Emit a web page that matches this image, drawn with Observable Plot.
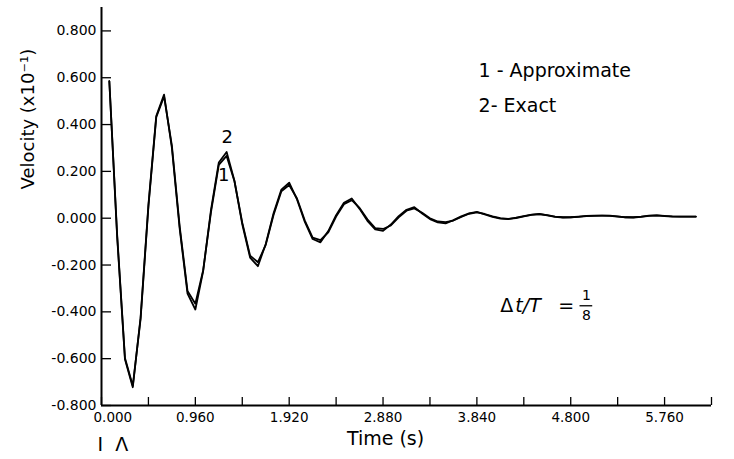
<!DOCTYPE html>
<html>
<head>
<meta charset="utf-8">
<script src="https://cdn.jsdelivr.net/npm/d3@7"></script>
<script src="https://cdn.jsdelivr.net/npm/@observablehq/plot@0.6"></script>
<style>
  html, body { margin: 0; padding: 0; background: #fff; }
  #chart svg { display: block; }
</style>
</head>
<body>
<div id="chart"></div>
<script>
// ---- data ----
const time = [0.08,0.16,0.24,0.32,0.40,0.48,0.56,0.64,0.72,0.80,0.88,0.96,1.04,1.12,1.20,1.28,1.36,1.44,1.52,1.60,
  1.68,1.76,1.84,1.92,2.00,2.08,2.16,2.24,2.32,2.40,2.48,2.56,2.64,2.72,2.80,2.88,2.96,3.04,3.12,3.20,
  3.28,3.36,3.44,3.52,3.60,3.68,3.76,3.84,3.92,4.00,4.08,4.16,4.24,4.32,4.40,4.48,4.56,4.64,4.72,4.80,
  4.88,4.96,5.04,5.12,5.20,5.28,5.36,5.44,5.52,5.60,5.68,5.76,5.84,5.92,6.00,6.08];

const approximate = [0.585,-0.070,-0.597,-0.716,-0.430,0.050,0.431,0.520,0.310,-0.036,-0.311,-0.365,-0.222,0.026,0.228,0.266,0.158,-0.019,-0.160,-0.188,
  -0.114,0.014,0.115,0.142,0.084,-0.010,-0.083,-0.094,-0.060,0.007,0.060,0.077,0.044,-0.005,-0.042,-0.046,-0.031,0.004,0.032,0.042,
  0.023,0.000,-0.014,-0.017,-0.010,0.005,0.019,0.025,0.018,0.008,0.000,-0.003,0.000,0.008,0.014,0.017,0.013,0.007,0.004,0.004,
  0.006,0.009,0.010,0.011,0.011,0.008,0.004,0.003,0.006,0.010,0.012,0.010,0.008,0.007,0.007,0.007];

const exact = [0.585,-0.078,-0.603,-0.722,-0.423,0.057,0.436,0.528,0.300,-0.046,-0.322,-0.390,-0.226,0.036,0.238,0.283,0.160,-0.026,-0.168,-0.205,
  -0.110,0.021,0.122,0.152,0.080,-0.016,-0.089,-0.103,-0.055,0.013,0.066,0.084,0.040,-0.011,-0.048,-0.054,-0.027,0.009,0.036,0.047,
  0.020,-0.004,-0.018,-0.022,-0.008,0.008,0.021,0.027,0.016,0.006,-0.002,-0.004,0.002,0.009,0.015,0.018,0.012,0.006,0.003,0.004,
  0.007,0.010,0.011,0.011,0.010,0.007,0.004,0.004,0.007,0.011,0.012,0.009,0.007,0.007,0.007,0.007];

const xTicks = [0,0.48,0.96,1.44,1.92,2.40,2.88,3.36,3.84,4.32,4.80,5.28,5.76,6.24];
const xTickLabels = [0,0.96,1.92,2.88,3.84,4.80,5.76];
const yTicks = [-0.8,-0.6,-0.4,-0.2,0,0.2,0.4,0.6,0.8];

const seriesNotes = [
  {text: "1 - Approximate", t: 3.857, v: 0.631},
  {text: "2- Exact", t: 3.857, v: 0.481}
];
const curveTags = [
  {text: "2", t: 1.286, v: 0.346},
  {text: "1", t: 1.251, v: 0.182}
];
const ratioNote = [{t: 4.08, v: -0.374}];

const xDomain = [0, 6.24];
const yDomain = [-0.8, 0.9];

// ---- table ----
const rows = time.flatMap((t, i) => [
  {t, v: approximate[i], series: "Approximate"},
  {t, v: exact[i], series: "Exact"}
]);

const font = "DejaVu Sans, sans-serif";
const fmt = d => d.toFixed(3);

const chart = Plot.plot({
  width: 734,
  height: 459,
  marginLeft: 101,
  marginRight: 23,
  marginTop: 7,
  marginBottom: 54,
  style: {fontFamily: font, background: "#fff", color: "#000"},
  x: {domain: xDomain, axis: null},
  y: {domain: yDomain, axis: null},
  marks: [
    // inward ticks
    Plot.axisY({ticks: yTicks, anchor: "left", tickSize: -10, tickFormat: () => "", label: null, strokeWidth: 1.3}),
    Plot.axisX({ticks: xTicks, anchor: "bottom", tickSize: -8, tickFormat: () => "", label: null, strokeWidth: 1.3}),
    // axis lines
    Plot.ruleX([xDomain[0]], {y1: yDomain[0], y2: yDomain[1], strokeWidth: 2}),
    Plot.ruleY([yDomain[0]], {x1: xDomain[0], x2: xDomain[1], strokeWidth: 1.8}),
    // tick labels
    Plot.text(yTicks, {x: xDomain[0], y: d => d, text: fmt, textAnchor: "end", dx: -5, fontSize: 14, letterSpacing: 0.8}),
    Plot.text(xTickLabels.slice(0, 1), {x: d => d, y: yDomain[0], text: fmt, textAnchor: "start", dx: -8, dy: 12, fontSize: 13.5, letterSpacing: 0.3}),
    Plot.text(xTickLabels.slice(1), {x: d => d, y: yDomain[0], text: fmt, textAnchor: "middle", dy: 12, fontSize: 13.5, letterSpacing: 0.3}),
    // axis titles
    Plot.text(["Velocity (x10⁻¹)"], {frameAnchor: "left", rotate: -90, dx: -73, dy: -17, fontSize: 18, text: d => d}),
    Plot.text(["Time (s)"], {frameAnchor: "bottom", dx: -21, dy: 39, fontSize: 19, text: d => d}),
    // curves
    Plot.line(rows, {x: "t", y: "v", z: "series", stroke: "#000", strokeWidth: 1.8, strokeLinejoin: "round"}),
    // annotations
    Plot.text(seriesNotes, {x: "t", y: "v", text: "text", textAnchor: "start", fontSize: 19}),
    Plot.text(curveTags, {x: "t", y: "v", text: "text", textAnchor: "middle", fontSize: 18}),
    Plot.text(ratioNote, {x: "t", y: "v", text: () => "Δ", textAnchor: "start", fontSize: 19}),
    Plot.text(ratioNote, {x: "t", y: "v", text: () => "t/T", textAnchor: "start", dx: 15, fontSize: 19, fontStyle: "italic", letterSpacing: 2.5}),
    Plot.text(ratioNote, {x: "t", y: "v", text: () => "=", textAnchor: "start", dx: 58, fontSize: 19}),
    Plot.text(ratioNote, {x: "t", y: "v", text: () => "1", textAnchor: "middle", dx: 86, dy: -10, fontSize: 14}),
    Plot.ruleY(ratioNote, {y: "v", x1: d => d.t + 0.815, x2: d => d.t + 0.945, dy: 0, strokeWidth: 1.3}),
    Plot.text(ratioNote, {x: "t", y: "v", text: () => "8", textAnchor: "middle", dx: 86, dy: 10, fontSize: 14}),
    // fragment of the next figure visible at the bottom edge
    Plot.text(["I  Λ"], {frameAnchor: "bottom-left", textAnchor: "start", dx: -4, dy: 45, fontSize: 19, text: d => d})
  ]
});

document.getElementById("chart").appendChild(chart);
</script>
</body>
</html>
